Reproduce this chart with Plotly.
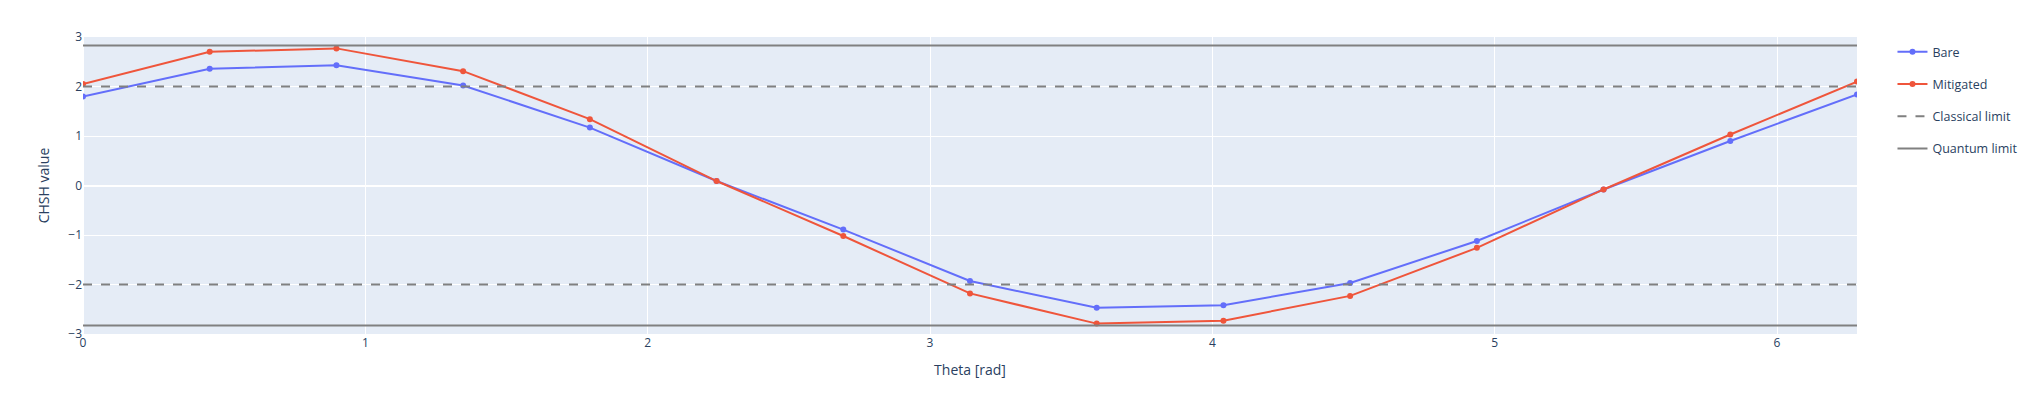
import numpy as np
import plotly.graph_objects as go

theta = np.linspace(0, 2 * np.pi, 15)
bare = [1.80, 2.36, 2.43, 2.02, 1.17, 0.09, -0.89, -1.93, -2.47, -2.42, -1.97, -1.12, -0.08, 0.90, 1.84]
mitigated = [2.05, 2.70, 2.77, 2.31, 1.34, 0.09, -1.02, -2.18, -2.79, -2.73, -2.23, -1.26, -0.08, 1.03, 2.10]
classical_limit = 2.0
quantum_limit = 2 * np.sqrt(2)

x_ends = [0, 2 * np.pi]

fig = go.Figure()
fig.add_trace(go.Scatter(x=theta, y=bare, mode="lines+markers", name="Bare",
                         legendgroup="bare", line=dict(color="#636efa", width=2)))
fig.add_trace(go.Scatter(x=theta, y=mitigated, mode="lines+markers", name="Mitigated",
                         legendgroup="mit", line=dict(color="#EF553B", width=2)))
for sgn, show in [(1, True), (-1, False)]:
    fig.add_trace(go.Scatter(x=x_ends, y=[sgn * classical_limit] * 2, mode="lines",
                             name="Classical limit", legendgroup="cl", showlegend=show,
                             line=dict(color="gray", width=2, dash="dash")))
for sgn, show in [(1, True), (-1, False)]:
    fig.add_trace(go.Scatter(x=x_ends, y=[sgn * quantum_limit] * 2, mode="lines",
                             name="Quantum limit", legendgroup="ql", showlegend=show,
                             line=dict(color="gray", width=2)))

fig.update_layout(
    width=2028, height=381,
    template="plotly",
    margin=dict(l=75, r=179, t=29, b=55),
    legend=dict(font=dict(size=12.5), tracegroupgap=13),
    xaxis=dict(title="Theta [rad]", range=[0, 2 * np.pi]),
    yaxis=dict(title="CHSH value", range=[-3, 3]),
)
fig.write_html("out.html")
